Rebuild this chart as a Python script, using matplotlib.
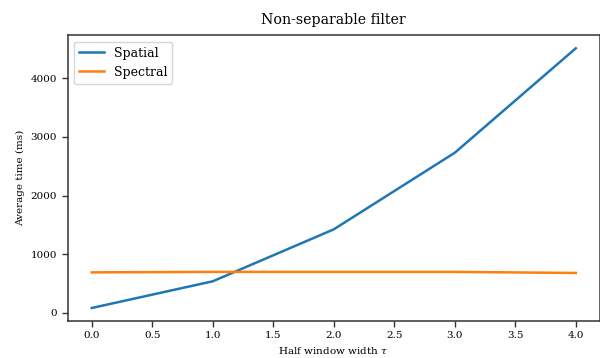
import numpy as np
import matplotlib
matplotlib.use('Agg')
import matplotlib.pyplot as plt

#values
tau = [0, 1, 2, 3, 4]
spatial = [85, 540, 1425, 2730, 4510]
spectral = [692, 700, 700, 700, 682]

plt.rcParams['font.family'] = 'DejaVu Serif'
plt.rcParams['mathtext.fontset'] = 'dejavuserif'

fig = plt.figure(figsize=(6, 3.58), dpi=100)
ax = fig.add_axes([0.1125, 0.1034, 0.8875, 0.798])

ax.plot(tau, spatial, color='#1f77b4', lw=1.8, label='Spatial')
ax.plot(tau, spectral, color='#ff7f0e', lw=1.8, label='Spectral')

ax.set_title('Non-separable filter', fontsize=10.2, pad=8)
ax.set_xlabel(r'Half window width $\tau$', fontsize=7.5)
ax.set_ylabel('Average time (ms)', fontsize=7.5)
ax.tick_params(labelsize=7.5, length=4, width=1, color='#333333')
for s in ax.spines.values():
    s.set_color('#333333')
    s.set_linewidth(1.1)

ax.legend(loc='upper left', fontsize=9)
fig.savefig('out.png', dpi=100)
